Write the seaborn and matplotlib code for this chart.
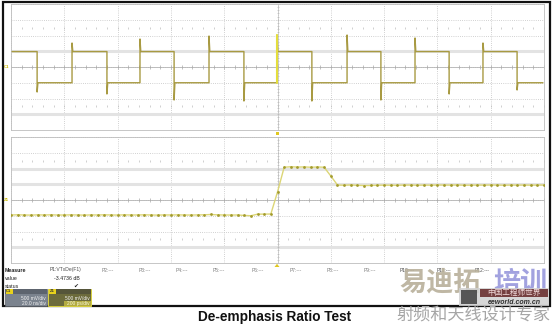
import numpy as np
import pandas as pd
import matplotlib
matplotlib.use("Agg")
import matplotlib.pyplot as plt
import seaborn as sns
from matplotlib.patches import Rectangle, Polygon

# ---------------- data ----------------
# Channel 1 (20 ns/div, 500 mV/div): square wave with de-emphasis spikes at edges
edge_times_ns = [9.8, 22.9, 36.0, 48.4, 61.2, 74.3, 87.4, 99.8, 112.9, 126.1,
                 138.8, 151.6, 164.4, 177.1, 189.9]
edge_peaks_mv = [-794, 762, -857, 889, -1048, 984, -1080, 1016, -1080, 1016,
                 -1048, 921, -857, 762, -730]
high_mv = 490
low_mv = -500
trace_start_ns = 0.4
trace_end_ns = 199.6
trigger_edge_index = 7

# Zoom Z1 (200 ps/div, 500 mV/div): samples every 25 ps
zoom_step_ps = 25
zoom_mv = [-476, -470, -476, -480, -472, -476, -470, -478, -476, -472,
           -476, -480, -474, -476, -470, -476, -478, -472, -476, -476,
           -470, -476, -480, -474, -476, -472, -476, -478, -474, -470,
           -460, -472, -476, -478, -476, -490, -500, -450, -448, -445,
           254, 1040, 1055, 1045, 1050, 1040, 1048, 1040, 762, 476,
           470, 480, 466, 460, 462, 470, 472, 470, 468, 476,
           476, 470, 474, 472, 478, 476, 474, 480, 470, 472,
           476, 474, 478, 476, 470, 476, 474, 476, 472, 476, 476]

measure_rows = ["Measure", "value", "status"]
param_labels = ["P1:VTxDe(F1)", "P2:---", "P3:---", "P4:---", "P5:---", "P6:---",
                "P7:---", "P8:---", "P9:---", "P10:---", "P11:---", "P12:---"]
p1_value = "-3.4736 dB"
title = "De-emphasis Ratio Test"

# ---------------- style ----------------
sns.set_theme(style="white")
plt.rcParams['font.family'] = ['Liberation Sans', 'DejaVu Sans', 'Noto Sans CJK SC']

W, H = 554, 324
fig = plt.figure(figsize=(W / 100, H / 100), dpi=100)
fig.patch.set_facecolor("white")

# overlay (pixel coordinates)
ov = fig.add_axes([0, 0, 1, 1])
ov.set_xlim(0, W)
ov.set_ylim(H, 0)
ov.axis("off")
ov.patch.set_alpha(0)


def panel(top, bottom):
    return fig.add_axes([11 / W, 1 - bottom / H, 533 / W, (bottom - top) / H])


def draw_grid(ax, x0, xdiv, thick):
    ax.set_xlim(x0, x0 + 10 * xdiv)
    ax.set_ylim(-2000, 2000)
    ax.set_facecolor("white")
    dot = (0, (1, 1.6))
    for k in range(11):
        ax.axvline(x0 + k * xdiv, color="#c2c2c2", lw=0.6, ls=dot, zorder=1)
    for j in range(-4, 5):
        ax.axhline(j * 500, color="#c2c2c2", lw=0.6, ls=dot, zorder=1)
    for lev in thick:
        ax.axhline(lev, color="#e3e3e3", lw=2.2, zorder=1)
    ax.axhline(0, color="#b4b4b4", lw=0.6, zorder=1.5)
    xc = x0 + 5 * xdiv
    ax.axvline(xc, color="#c0c0c0", lw=0.5, zorder=1.5)
    mx = x0 + np.arange(51) * xdiv / 5
    ax.plot(mx, np.zeros_like(mx), ls="none", marker="|", ms=2.2, mew=0.5,
            color="#a8a8a8", zorder=1.6)
    for yy in (1250, -1250):
        ax.plot(mx, np.full_like(mx, yy), ls="none", marker="|", ms=1.3, mew=0.5,
                color="#bcbcbc", zorder=1.6)
    my = np.arange(-2000, 2001, 100)
    ax.plot(np.full(my.shape, xc), my, ls="none", marker="_", ms=1.8, mew=0.4,
            color="#b4b4b4", zorder=1.6)
    ax.set_xticks([])
    ax.set_yticks([])
    ax.set_xlabel("")
    ax.set_ylabel("")
    for s in ax.spines.values():
        s.set_color("#bdbdbd")
        s.set_linewidth(0.6)


# ---- top panel ----
ax1 = panel(4, 130)
draw_grid(ax1, 0, 20, [500, -1500])
xs, ys = [trace_start_ns], [high_mv]
level = high_mv
for t, p in zip(edge_times_ns, edge_peaks_mv):
    new = low_mv if p < 0 else high_mv
    xs += [t, t, t + 0.3]
    ys += [level, p, new]
    level = new
xs.append(trace_end_ns)
ys.append(level)
df1 = pd.DataFrame({"t": xs, "v": ys})
sns.lineplot(data=df1, x="t", y="v", ax=ax1, sort=False, estimator=None,
             color="#a89a42", lw=1.0, zorder=3)
te = edge_times_ns[trigger_edge_index]
df_tr = pd.DataFrame({"t": [te, te], "v": [low_mv, edge_peaks_mv[trigger_edge_index]]})
sns.lineplot(data=df_tr, x="t", y="v", ax=ax1, sort=False, estimator=None,
             color="#e4de3c", lw=1.5, zorder=4)
ax1.set_xlabel("")
ax1.set_ylabel("")

# ---- bottom panel ----
ax2 = panel(137, 263)
draw_grid(ax2, 0, 200, [1000, 500, -1500])
zt = np.arange(len(zoom_mv)) * zoom_step_ps
df2 = pd.DataFrame({"t": zt, "v": zoom_mv})
sns.lineplot(data=df2, x="t", y="v", ax=ax2, sort=False, estimator=None,
             color="#dcd676", lw=1.0, marker="o", markersize=2.0,
             markerfacecolor="#a39b2e", markeredgewidth=0, zorder=3)
ax2.set_xlabel("")
ax2.set_ylabel("")

# ---- overlay decorations ----
ov.add_patch(Rectangle((3, 1.5), 547, 304.5, fill=False, ec="#111111", lw=1.6))
# LeCroy badge
ov.add_patch(Rectangle((520, 5), 23, 8, fc="#f4f4f4", ec="#c8c8c8", lw=0.5))
ov.text(531.5, 9.3, "LeCroy", fontsize=4.3, color="#6a6a6a", ha="center", va="center")
# channel markers
ov.text(6.5, 67, "C1", fontsize=3.2, color="#c8b800", ha="center", va="center",
        fontweight="bold")
ov.text(6.5, 200, "Z1", fontsize=3.2, color="#c8b800", ha="center", va="center",
        fontweight="bold")
# trigger markers
ov.add_patch(Rectangle((275.5, 131.5), 3, 3, fc="#e0c820", ec="none"))
ov.add_patch(Polygon([[274.5, 267], [279.5, 267], [277, 263.8]], fc="#e0c820", ec="none"))

# measurement table
ys_rows = [270, 278, 286]
for r, y in zip(measure_rows, ys_rows):
    ov.text(5, y, r, fontsize=3.8, color="#222222", va="center",
            fontweight="bold" if r == "Measure" else "normal")
px_cols = [50, 102, 139, 176, 213, 252, 290, 327, 364, 400, 437, 475]
for lab, x in zip(param_labels, px_cols):
    ov.text(x, 270, lab, fontsize=3.6, color="#505050" if lab.startswith("P1") else "#808080",
            va="center", zorder=1)
ov.text(79.5, 278, p1_value, fontsize=3.8, color="#222222", ha="right", va="center")
ov.text(76, 286, "\u2714", fontsize=4.2, color="#222222", ha="center", va="center",
        family=["DejaVu Sans"])

# channel descriptor boxes
ov.add_patch(Rectangle((5, 288.5), 42, 17, fc="#7b838e", ec="#5c6068", lw=0.5))
ov.add_patch(Rectangle((5, 288.5), 42, 5.5, fc="#5d646e", ec="none"))
ov.add_patch(Rectangle((5.5, 289), 7, 5, fc="#e8d21c", ec="none"))
ov.text(9, 291.5, "C1", fontsize=3, color="#333333", ha="center", va="center",
        fontweight="bold")
ov.text(45.5, 298.2, "500 mV/div", fontsize=3.5, color="#f2f2f2", ha="right", va="center")
ov.text(45.5, 303.3, "20.0 ns/div", fontsize=3.5, color="#f2f2f2", ha="right", va="center")

ov.add_patch(Rectangle((48, 288.5), 43, 17, fc="#6c6b3c", ec="#d8d040", lw=0.7))
ov.add_patch(Rectangle((48.5, 289), 42, 5, fc="#55553a", ec="none"))
ov.add_patch(Rectangle((64, 300.5), 26.5, 5, fc="#b2aa40", ec="none"))
ov.add_patch(Rectangle((48.8, 289), 7, 5, fc="#e8d21c", ec="none"))
ov.text(52.3, 291.5, "Z1", fontsize=3, color="#333333", ha="center", va="center",
        fontweight="bold")
ov.text(89.5, 298.2, "500 mV/div", fontsize=3.5, color="#f2f2f2", ha="right", va="center")
ov.text(89.5, 303.3, "200 ps/div", fontsize=3.5, color="#f8f8e0", ha="right", va="center")

# title
ov.text(275, 316.5, title, fontsize=9.8, fontweight="bold", color="#111111",
        ha="center", va="center", family=["Liberation Sans", "DejaVu Sans"])

# watermark
cjk = ["Noto Sans CJK SC", "DejaVu Sans"]
ov.text(399, 283, "易迪拓", fontsize=19.5, color="#b8b09a", alpha=0.9, ha="left",
        va="center", family=cjk, fontweight="bold", zorder=2)
ov.text(493, 283, "培训", fontsize=19.5, color="#9898dc", alpha=0.9, ha="left",
        va="center", family=cjk, fontweight="bold", zorder=2)
ov.add_patch(Rectangle((459, 288), 90, 18, fc="#d0d0d0", ec="none", alpha=0.85, zorder=3))
ov.add_patch(Rectangle((480, 289), 68, 8, fc="#6a3030", ec="none", alpha=0.9, zorder=3))
ov.text(514, 293, "中国工程师世界", fontsize=5.5, color="#f0d8d8", ha="center",
        va="center", family=cjk, zorder=4)
ov.text(514, 302, "eeworld.com.cn", fontsize=5, color="#303030", ha="center",
        va="center", style="italic", fontweight="bold", zorder=4)
ov.add_patch(Rectangle((461, 290), 16, 14, fc="#404040", ec="none", alpha=0.85, zorder=3))
ov.text(396, 315.5, "射频和天线设计专家", fontsize=12.3, color="#a6a6a6", ha="left",
        va="center", family=cjk)

fig.savefig("out.png", dpi=100, facecolor="white")
